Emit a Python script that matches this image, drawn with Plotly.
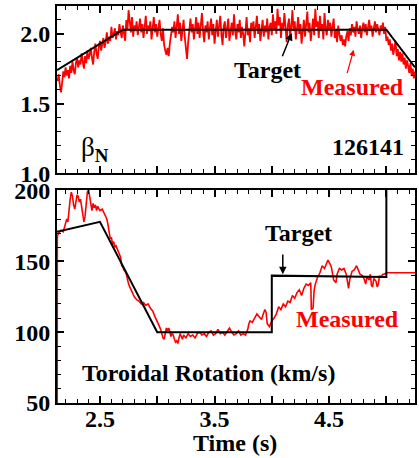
"""Beta_N and toroidal rotation feedback control, shot 126141: target vs measured."""

import numpy as np
import plotly.graph_objects as go

# --- beta_N panel ------------------------------------------------------------
BETA_T0 = 2.13          # first sample time (s)
BETA_DT = 0.01          # sample spacing (s)
beta_meas = [
    1.66, 1.71, 1.63, 1.58, 1.65, 1.73, 1.69, 1.76, 1.70, 1.74,
    1.68, 1.77, 1.72, 1.80, 1.74, 1.71, 1.79, 1.83, 1.76, 1.81,
    1.78, 1.86, 1.80, 1.75, 1.84, 1.79, 1.88, 1.82, 1.85, 1.90,
    1.83, 1.78, 1.87, 1.93, 1.86, 1.82, 1.91, 1.95, 1.88, 1.92,
    1.97, 1.90, 1.94, 2.01, 1.93, 1.98, 1.95, 2.05, 1.97, 2.00,
    2.04, 1.96, 2.02, 1.99, 2.07, 2.01, 1.97, 2.06, 2.00, 1.95,
    2.10, 2.03, 2.17, 2.08, 2.01, 2.12, 1.98, 2.06, 2.02, 2.09,
    1.99, 2.05, 2.11, 2.01, 2.07, 1.97, 2.04, 2.13, 2.00, 2.06,
    2.02, 2.09, 1.96, 2.05, 2.12, 2.01, 2.07, 1.98, 2.03, 2.10,
    2.00, 1.95, 2.04, 1.92, 1.88, 1.85, 1.90, 1.84, 1.93, 1.99,
    2.05, 2.01, 2.09, 1.97, 2.06, 2.14, 2.00, 2.08, 1.95, 2.03,
    2.10, 1.98, 1.89, 1.82, 1.94, 2.04, 2.11, 2.01, 2.07, 1.96,
    2.03, 2.12, 2.00, 2.08, 1.97, 2.05, 2.15, 2.02, 1.94, 2.06,
    2.01, 2.09, 1.96, 2.04, 2.11, 1.99, 2.07, 1.93, 2.02, 2.10,
    1.98, 2.06, 2.13, 2.00, 1.92, 2.05, 2.09, 1.97, 2.03, 2.11,
    1.95, 2.04, 2.08, 1.99, 2.14, 2.02, 1.96, 2.07, 2.01, 2.10,
    1.97, 2.05, 2.00, 1.91, 2.06, 2.12, 1.99, 2.04, 1.94, 2.08,
    2.02, 2.09, 1.97, 2.03, 2.13, 2.00, 2.07, 1.95, 2.04, 2.10,
    1.98, 2.06, 2.01, 2.11, 1.96, 2.05, 2.08, 1.99, 2.14, 2.03,
    2.09, 2.00, 2.18, 2.06, 2.12, 1.97, 2.08, 2.03, 2.15, 2.01,
    1.94, 2.06, 2.11, 1.99, 2.05, 2.17, 2.02, 2.09, 1.96, 2.04,
    2.12, 2.00, 2.07, 1.93, 2.03, 2.10, 1.98, 2.06, 2.16, 2.01,
    2.08, 1.95, 2.04, 2.11, 1.99, 2.18, 2.05, 2.09, 1.97, 2.13,
    2.02, 2.07, 1.96, 2.15, 2.04, 1.99, 2.10, 2.03, 2.08, 1.98,
    2.05, 2.11, 1.97, 2.03, 1.94, 2.06, 2.00, 1.95, 1.99, 1.92,
    1.96, 1.91, 1.98, 2.02, 1.95, 2.04, 1.99, 2.07, 2.01, 2.05,
    1.98, 2.09, 2.03, 2.00, 2.06, 1.97, 2.04, 2.08, 2.01, 2.07,
    1.99, 2.05, 2.10, 2.02, 2.06, 1.98, 2.04, 2.09, 2.01, 2.07,
    2.03, 1.99, 2.06, 2.02, 2.08, 2.00, 2.05, 1.95, 1.98, 1.92,
    1.96, 1.88, 1.93, 1.85, 1.90, 1.95, 1.84, 1.89, 1.81, 1.87,
    1.80, 1.86, 1.78, 1.83, 1.75, 1.81, 1.77, 1.72, 1.79, 1.70,
    1.75, 1.68, 1.73,
]
beta_target_t = [2.125, 2.70, 5.00, 5.25]
beta_target = [1.74, 2.03, 2.03, 1.76]

# --- toroidal rotation panel ---------------------------------------------------
rot_t = [
    2.127, 2.128, 2.14, 2.16, 2.18, 2.20, 2.21, 2.22, 2.23, 2.24,
    2.25, 2.26, 2.27, 2.28, 2.29, 2.30, 2.31, 2.32, 2.33, 2.34,
    2.35, 2.36, 2.37, 2.38, 2.39, 2.40, 2.41, 2.42, 2.43, 2.44,
    2.45, 2.46, 2.47, 2.48, 2.50, 2.52, 2.53, 2.55, 2.56, 2.57,
    2.58, 2.59, 2.60, 2.61, 2.62, 2.63, 2.64, 2.65, 2.66, 2.67,
    2.68, 2.69, 2.70, 2.71, 2.72, 2.73, 2.74, 2.75, 2.76, 2.77,
    2.78, 2.79, 2.80, 2.82, 2.84, 2.86, 2.88, 2.90, 2.92, 2.94,
    2.96, 2.98, 3.00, 3.02, 3.03, 3.04, 3.05, 3.06, 3.07, 3.08,
    3.09, 3.10, 3.11, 3.12, 3.13, 3.14, 3.15, 3.16, 3.17, 3.18,
    3.19, 3.20, 3.21, 3.22, 3.23, 3.25, 3.27, 3.29, 3.31, 3.33,
    3.35, 3.37, 3.39, 3.41, 3.43, 3.45, 3.47, 3.49, 3.51, 3.53,
    3.55, 3.57, 3.59, 3.61, 3.63, 3.65, 3.67, 3.69, 3.71, 3.73,
    3.75, 3.77, 3.79, 3.80, 3.81, 3.83, 3.85, 3.87, 3.89, 3.91,
    3.93, 3.94, 3.95, 3.96, 3.98, 4.00, 4.02, 4.04, 4.06, 4.08,
    4.10, 4.12, 4.14, 4.16, 4.18, 4.20, 4.22, 4.24, 4.26, 4.28,
    4.30, 4.32, 4.34, 4.345, 4.36, 4.37, 4.38, 4.40, 4.42, 4.44,
    4.46, 4.47, 4.49, 4.51, 4.52, 4.54, 4.56, 4.57, 4.59, 4.61,
    4.63, 4.65, 4.66, 4.67, 4.68, 4.70, 4.72, 4.74, 4.76, 4.77,
    4.79, 4.80, 4.82, 4.83, 4.85, 4.86, 4.87, 4.88, 4.89, 4.91,
    4.92, 4.93, 4.94, 4.95, 4.97, 4.98, 5.00, 5.30,
]
rot_meas = [
    50, 168, 170, 172, 171, 176, 180, 178, 188, 194,
    199, 196, 190, 187, 192, 197, 196, 192, 194, 189,
    184, 178, 182, 193, 199, 201, 195, 190, 186, 191,
    188, 190, 186, 189, 186, 187, 185, 182, 180, 176,
    170, 166, 167, 162, 164, 160, 161, 159, 157, 156,
    153, 147, 146, 144, 143, 141, 137, 134, 132, 130,
    128, 127, 125, 123, 122, 120, 121, 119, 120, 117,
    115, 111, 108, 104, 102, 98, 96, 95, 99, 103,
    101, 103, 100, 97, 99, 98, 95, 93, 94, 92,
    96, 99, 97, 95, 98, 96, 99, 97, 98, 96,
    99, 100, 98, 99, 97, 100, 101, 98, 99, 102,
    99, 100, 98, 101, 103, 100, 98, 99, 101, 98,
    99, 98, 102, 106, 108, 107, 110, 113, 111, 109,
    114, 116, 114, 106, 104, 108, 110, 113, 118, 116,
    120, 118, 122, 121, 126, 124, 128, 130, 126, 131,
    134, 133, 135, 116, 117, 130, 134, 139, 142, 147,
    145, 147, 151, 148, 146, 137, 135, 141, 145, 144,
    145, 141, 137, 131, 137, 143, 144, 147, 143, 141,
    140, 139, 134, 139, 137, 141, 133, 132, 138, 136,
    132, 134, 140, 139, 141, 141, 142, 142,
]
rot_target_t = [2.125, 2.50, 3.00, 4.00, 4.00, 5.00, 5.00]
rot_target = [171, 178, 100, 100, 140, 139, 215]

RED = "#FF0000"
FONT = "Liberation Serif"
X_RANGE = [2.125, 5.25]

beta_t = BETA_T0 + BETA_DT * np.arange(len(beta_meas))

fig = go.Figure()
fig.add_trace(go.Scatter(x=beta_t, y=beta_meas, mode="lines",
                         line=dict(color=RED, width=1.8), xaxis="x", yaxis="y"))
fig.add_trace(go.Scatter(x=beta_target_t, y=beta_target, mode="lines",
                         line=dict(color="black", width=2), xaxis="x", yaxis="y"))
fig.add_trace(go.Scatter(x=rot_t, y=rot_meas, mode="lines",
                         line=dict(color=RED, width=1.6), xaxis="x2", yaxis="y2"))
fig.add_trace(go.Scatter(x=rot_target_t, y=rot_target, mode="lines",
                         line=dict(color="black", width=2), xaxis="x2", yaxis="y2"))

axis_common = dict(
    showline=True, linecolor="black", linewidth=2, mirror="allticks",
    ticks="inside", ticklen=7, tickwidth=1.5, tickcolor="black",
    showgrid=False, zeroline=False, automargin=False,
    tickfont=dict(family=FONT, size=24, color="black"),
)
xticks = [2.5, 3.0, 3.5, 4.0, 4.5, 5.0]
xlabels = ["<b>2.5</b>", " ", "<b>3.5</b>", " ", "<b>4.5</b>", " "]
xminor = dict(dtick=0.1, tick0=2.0, ticks="inside", ticklen=4,
              tickcolor="black", tickwidth=1.2)

fig.update_layout(
    width=419, height=458,
    margin=dict(l=57, r=4, t=6, b=55),
    paper_bgcolor="white", plot_bgcolor="white",
    showlegend=False,
    xaxis=dict(axis_common, domain=[0, 1], range=X_RANGE, anchor="y",
               tickvals=xticks, ticktext=xlabels, showticklabels=False,
               minor=xminor),
    yaxis=dict(axis_common, domain=[0.579, 1], range=[1.0, 2.2], anchor="x",
               tickvals=[1.0, 1.5, 2.0],
               ticktext=["<b>1.0</b>", "<b>1.5</b>", "<b>2.0</b>"],
               minor=dict(dtick=0.1, tick0=1.0, ticks="inside", ticklen=4,
                          tickcolor="black", tickwidth=1.2)),
    xaxis2=dict(axis_common, domain=[0, 1], range=X_RANGE, anchor="y2",
                tickvals=xticks, ticktext=xlabels, minor=xminor,
                ticklabelstandoff=-7),
    yaxis2=dict(axis_common, domain=[0, 0.5365], range=[50, 200.5], anchor="x2",
                tickvals=[50, 100, 150, 200],
                ticktext=["<b>50</b>", "<b>100</b>", "<b>150</b>", "<b>200</b>"],
                minor=dict(dtick=10, tick0=50, ticks="inside", ticklen=4,
                           tickcolor="black", tickwidth=1.2)),
)

txt = dict(family=FONT, size=24, color="black")
red_txt = dict(family=FONT, size=24, color=RED)
annotations = [
    # beta_N panel
    dict(x=4.174, y=2.007, ax=4.087, ay=1.829, xref="x", yref="y",
         axref="x", ayref="y", text="", showarrow=True, arrowhead=2,
         arrowsize=1, arrowwidth=1.5, arrowcolor="black"),
    dict(x=3.965, y=1.743, xref="x", yref="y", text="<b>Target</b>",
         showarrow=False, font=txt),
    dict(x=4.715, y=1.886, ax=4.654, ay=1.707, xref="x", yref="y",
         axref="x", ayref="y", text="", showarrow=True, arrowhead=2,
         arrowsize=1, arrowwidth=1.2, arrowcolor=RED),
    dict(x=4.706, y=1.62, xref="x", yref="y", text="<b>Measured</b>",
         showarrow=False, font=red_txt),
    dict(x=4.837, y=1.186, xref="x", yref="y", text="<b>126141</b>",
         showarrow=False, font=txt),
    dict(x=2.46, y=1.175, xref="x", yref="y", text="β<sub><b>N</b></sub>",
         showarrow=False, font=dict(family=FONT, size=27, color="black")),
    # rotation panel
    dict(x=4.235, y=170.4, xref="x2", yref="y2", text="<b>Target</b>",
         showarrow=False, font=txt),
    dict(x=4.096, y=141, ax=4.096, ay=156, xref="x2", yref="y2",
         axref="x2", ayref="y2", text="", showarrow=True, arrowhead=2,
         arrowsize=1, arrowwidth=1.5, arrowcolor="black"),
    dict(x=4.663, y=109, xref="x2", yref="y2", text="<b>Measured</b>",
         showarrow=False, font=red_txt),
    dict(x=2.326, y=71, xref="x2", yref="y2", xanchor="left",
         text="<b>Toroidal Rotation (km/s)</b>", showarrow=False, font=txt),
    dict(x=0.497, y=-0.101, xref="paper", yref="paper", xanchor="center",
         yanchor="middle", text="<b>Time (s)</b>", showarrow=False, font=txt),
]
fig.update_layout(annotations=annotations)

# page body has an 8px default margin; drop it so the figure sits at 0,0
fig.write_html("out.html", config={"displayModeBar": False},
               post_script="document.body.style.margin = '0';")
